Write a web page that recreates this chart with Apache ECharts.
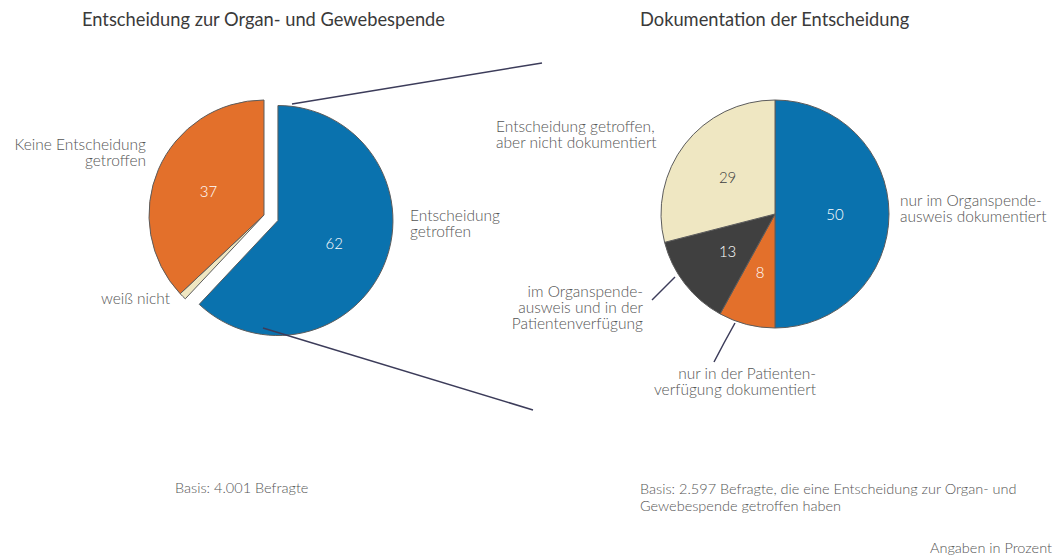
<!DOCTYPE html>
<html>
<head>
<meta charset="utf-8">
<script src="https://cdn.jsdelivr.net/npm/echarts@6/dist/echarts.min.js"></script>
<style>
  html, body { margin: 0; padding: 0; background: #fff; }
  #app { width: 1057px; height: 558px; }
</style>
</head>
<body>
<div id="app"></div>
<script>
// left pie: decision about donation
const leftNames = ['Entscheidung\ngetroffen', 'weiß nicht', 'Keine Entscheidung\ngetroffen']
const leftValues = [62, 1, 37]
const leftColors = ['#0a72ae', '#efe7c2', '#e3702b']

// right pie: documentation of the decision
const rightNames = [
  'nur im Organspende-\nausweis dokumentiert',
  'nur in der Patienten-\nverfügung dokumentiert',
  'im Organspende-\nausweis und in der\nPatientenverfügung',
  'Entscheidung getroffen,\naber nicht dokumentiert'
]
const rightValues = [50, 8, 13, 29]
const rightColors = ['#0a72ae', '#e3702b', '#404040', '#efe7c2']

// where the outside labels sit: [x, y, align]
const leftLabelPos = [[410, 223, 'left'], [170, 298, 'right'], [146, 152, 'right']]
const rightLabelPos = [[900, 208, 'left'], [816, 381, 'right'], [643, 307, 'right'], [496, 134, 'left']]
// leader lines for the two small slices on the right
const rightLeaders = { 1: [[714, 362], [724, 343], [735, 323]], 2: [[652, 300], [663, 289], [675, 277]] }

const font = 'Lato, "Open Sans", sans-serif'
const textColor = '#555'
const navy = '#3c3c5a'

function sliceData(names, values, colors, opts) {
  return values.map((v, i) => ({
    name: names[i],
    value: v,
    selected: opts && opts.selected === i,
    itemStyle: { color: colors[i] },
    label: { color: colors[i] === '#efe7c2' ? '#404040' : '#fff' }
  }))
}

function labelData(names, values, leaders) {
  return values.map((v, i) => ({
    name: names[i],
    value: v,
    labelLine: { show: !!(leaders && leaders[i]) }
  }))
}

const pieBase = {
  type: 'pie',
  startAngle: 90,
  avoidLabelOverlap: false,
  emphasis: { disabled: true },
  animation: false
}

const option = {
  animation: false,
  title: [
    { text: 'Entscheidung zur Organ- und Gewebespende', left: 82, top: 10, padding: 0,
      textStyle: { fontFamily: font, fontSize: 18.3, fontWeight: 'normal', color: '#3a3a3a' } },
    { text: 'Dokumentation der Entscheidung', left: 640, top: 10, padding: 0,
      textStyle: { fontFamily: font, fontSize: 18.3, fontWeight: 'normal', color: '#3a3a3a' } }
  ],
  series: [
    Object.assign({}, pieBase, {
      name: 'links',
      center: [264, 215],
      radius: 115,
      selectedMode: 'single',
      selectedOffset: 15,
      itemStyle: { borderColor: '#5c5c5c', borderWidth: 1 },
      label: { position: 'inside', formatter: '{c}', fontFamily: font, fontSize: 15, fontWeight: 300 },
      data: sliceData(leftNames, leftValues, leftColors, { selected: 0 })
        .map((d, i) => i === 1 ? Object.assign(d, { label: { show: false } }) : d)
    }),
    Object.assign({}, pieBase, {
      name: 'links-text',
      silent: true,
      center: [264, 215],
      radius: 115,
      itemStyle: { color: 'transparent', borderWidth: 0 },
      label: { position: 'outside', formatter: '{b}', fontFamily: font, fontSize: 15.5,
        fontWeight: 300, color: textColor, lineHeight: 16 },
      labelLine: { show: false },
      labelLayout: function (p) {
        const pos = leftLabelPos[p.dataIndex]
        return { x: pos[0], y: pos[1], align: pos[2], verticalAlign: 'middle' }
      },
      data: labelData(leftNames, leftValues)
    }),
    Object.assign({}, pieBase, {
      name: 'rechts',
      center: [775, 214],
      radius: 114,
      itemStyle: { borderColor: '#5c5c5c', borderWidth: 1 },
      label: { position: 'inside', formatter: '{c}', fontFamily: font, fontSize: 15, fontWeight: 300 },
      data: sliceData(rightNames, rightValues, rightColors)
    }),
    Object.assign({}, pieBase, {
      name: 'rechts-text',
      silent: true,
      center: [775, 214],
      radius: 114,
      itemStyle: { color: 'transparent', borderWidth: 0 },
      label: { position: 'outside', formatter: '{b}', fontFamily: font, fontSize: 15.5,
        fontWeight: 300, color: textColor, lineHeight: 16 },
      labelLine: { lineStyle: { color: navy, width: 1.5 } },
      labelLayout: function (p) {
        const pos = rightLabelPos[p.dataIndex]
        const out = { x: pos[0], y: pos[1], align: pos[2], verticalAlign: 'middle' }
        if (rightLeaders[p.dataIndex]) out.labelLinePoints = rightLeaders[p.dataIndex]
        return out
      },
      data: labelData(rightNames, rightValues, rightLeaders)
    })
  ],
  graphic: [
    // connector lines from the "getroffen" slice to the second pie
    { type: 'line', shape: { x1: 292, y1: 104, x2: 542, y2: 63 }, style: { stroke: navy, lineWidth: 1.5 }, z: 10 },
    { type: 'line', shape: { x1: 263, y1: 328, x2: 533, y2: 410 }, style: { stroke: navy, lineWidth: 1.5 }, z: 10 },
    { type: 'text', left: 175, top: 480,
      style: { text: 'Basis: 4.001 Befragte', font: '300 14.5px ' + font, fill: textColor } },
    { type: 'text', left: 640, top: 480,
      style: { text: 'Basis: 2.597 Befragte, die eine Entscheidung zur Organ- und\nGewebespende getroffen haben',
        font: '300 14.5px ' + font, fill: textColor, lineHeight: 17 } },
    { type: 'text', right: 5, top: 540,
      style: { text: 'Angaben in Prozent', font: '300 14.5px ' + font, fill: textColor } }
  ]
}

const chart = echarts.init(document.getElementById('app'), null, { renderer: 'svg' })
chart.setOption(option)
</script>
</body>
</html>
